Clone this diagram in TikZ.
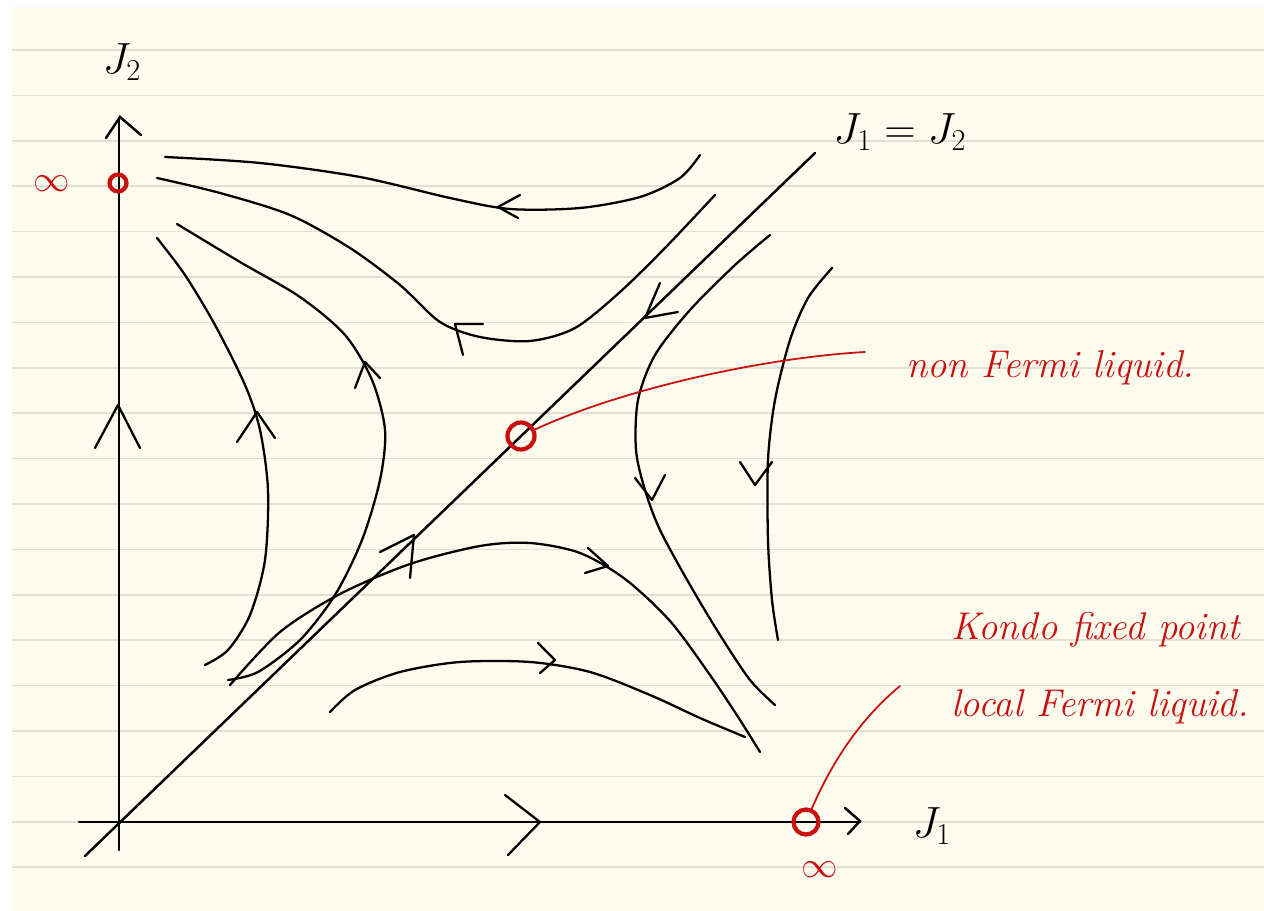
\documentclass[tikz,border=0pt]{standalone}
\usepackage{tikz}
\usetikzlibrary{positioning,calc}
\usepackage{amsmath}
\usepackage{xcolor}
\definecolor{paper}{RGB}{253,251,238}
\definecolor{rule}{RGB}{226,224,212}
\definecolor{ink}{RGB}{200,16,16}

\begin{document}
\begin{tikzpicture}[
    x=0.02cm, y=-0.02cm,
    flow/.style={draw=black, line width=1.3pt, line cap=round, line join=round},
    axis/.style={draw=black, line width=1.4pt, line cap=round},
    fixpt/.style={circle, draw=ink, line width=2.4pt, inner sep=0pt},
    pointer/.style={draw=ink, line width=1pt, line cap=round},
    note/.style={text=ink, font=\fontsize{22}{30}\selectfont\itshape, anchor=west, align=left},
    label/.style={font=\fontsize{26}{30}\selectfont}
]
\useasboundingbox (0,0) rectangle (1264,911);

% Paper
\fill[white] (0,0) rectangle (1264,911);
\fill[paper] (12,7) rectangle (1264,911);
\foreach \k in {0,...,18}
    \draw[rule, line width=1pt] (12,50+45.4*\k) -- (1264,50+45.4*\k);

% Axes
\draw[axis] (119,850) -- (119,118);
\draw[axis] (106,138) -- (120,117) -- (141,135);
\draw[axis] (79,822) -- (860,822);
\draw[axis] (845,808) -- (860,821) -- (848,834);
\draw[axis] (85,856) -- (815,153);

% Axis labels
\node[label] (j2) at (122,62) {$J_2$};
\node[label] (j1) at (932,826) {$J_1$};
\node[label] (diag) at (900,132) {$J_1 = J_2$};

% Arrows on the axes
\draw[flow] (95,448) -- (118,405) -- (140,448);
\draw[flow] (505,795) -- (540,822) -- (508,855);
\draw[flow] (380,552) -- (414,535) -- (410,578);
\draw[flow] (660,283) -- (645,318) -- (678,312);

% Flow lines above the diagonal
\draw[flow] plot[smooth] coordinates {(165,157) (260,163) (360,177) (450,198) (510,209) (580,208) (640,197) (680,178) (700,155)};
\draw[flow] (520,195) -- (498,207) -- (518,218);
\draw[flow] plot[smooth] coordinates {(157,178) (220,193) (290,215) (350,248) (400,285) (440,322) (480,337) (530,341) (575,328) (620,292) (665,248) (715,195)};
\draw[flow] (483,324) -- (455,324) -- (463,355);
\draw[flow] plot[smooth] coordinates {(177,224) (240,262) (300,297) (345,335) (372,380) (385,430) (380,480) (362,540) (335,595) (300,640) (258,672) (228,680)};
\draw[flow] (355,388) -- (365,362) -- (380,378);
\draw[flow] plot[smooth] coordinates {(157,238) (185,275) (215,325) (245,385) (260,430) (268,490) (265,560) (250,615) (228,650) (205,665)};
\draw[flow] (237,442) -- (257,412) -- (275,438);

% Flow lines below the diagonal
\draw[flow] plot[smooth] coordinates {(230,685) (280,632) (340,594) (410,564) (480,546) (530,543) (580,553) (625,579) (670,621) (710,675) (740,720) (760,752)};
\draw[flow] (588,548) -- (608,566) -- (585,573);
\draw[flow] plot[smooth] coordinates {(330,712) (355,690) (400,672) (460,662) (530,662) (590,672) (650,695) (700,718) (745,737)};
\draw[flow] (538,643) -- (555,660) -- (540,673);
\draw[flow] plot[smooth] coordinates {(770,235) (735,265) (690,310) (655,355) (638,400) (636,450) (645,490) (660,530) (690,585) (720,635) (750,680) (775,705)};
\draw[flow] (635,478) -- (652,500) -- (665,475);
\draw[flow] plot[smooth] coordinates {(832,268) (808,298) (790,340) (775,400) (768,460) (768,540) (772,600) (778,640)};
\draw[flow] (740,462) -- (755,485) -- (772,462);

% Fixed points
\node[fixpt, minimum size=0.34cm] (top) at (118,183) {};
\node[fixpt, minimum size=0.54cm] (nfl) at (521,436) {};
\node[fixpt, minimum size=0.5cm] (kondo) at (806,822) {};
\node[text=ink, font=\fontsize{22}{24}\selectfont] (inftop) at (52,184) {$\infty$};
\node[text=ink, font=\fontsize{22}{24}\selectfont] (infright) at (820,870) {$\infty$};

% Notes
\coordinate (nflend) at (865,352);
\node[note] (nfltext) at (900,368) {non Fermi liquid.};
\draw[pointer] (nfl) .. controls (620,390) and (760,358) .. (nflend);
\coordinate (kondoend) at (900,686);
\node[note] (kondotext) at (945,668) {Kondo fixed point\\[14pt]local Fermi liquid.};
\draw[pointer] (kondo) .. controls (835,755) and (865,715) .. (kondoend);

\end{tikzpicture}
\end{document}
